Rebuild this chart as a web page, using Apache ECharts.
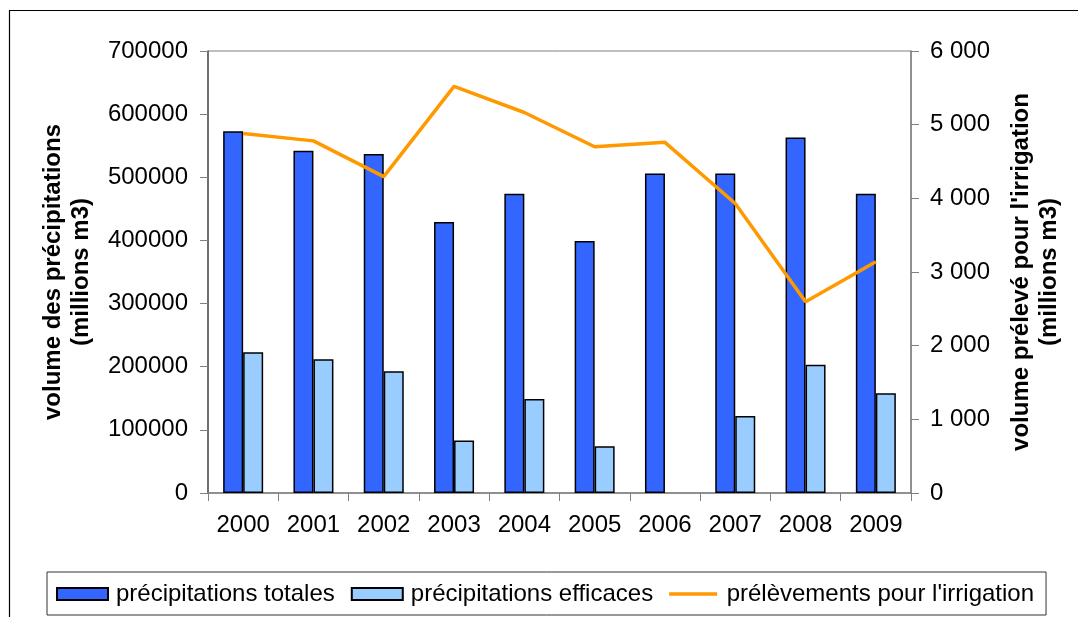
<!DOCTYPE html>
<html>
<head>
<meta charset="utf-8">
<script src="https://cdn.jsdelivr.net/npm/echarts@6/dist/echarts.min.js"></script>
<style>
html,body{margin:0;padding:0;background:#fff;}
#chart{width:1078px;height:617px;}
</style>
</head>
<body>
<div id="chart"></div>
<script>
var years = ['2000','2001','2002','2003','2004','2005','2006','2007','2008','2009'];
var precipTotales = [573000, 542000, 537000, 429000, 474000, 399000, 506000, 506000, 563000, 474000];
var precipEfficaces = [223000, 212000, 193000, 83000, 149000, 74000, null, 122000, 203000, 158000];
var prelevements = [4880, 4780, 4295, 5520, 5165, 4700, 4760, 3930, 2595, 3140];
var seriesNames = ['précipitations totales', 'précipitations efficaces', "prélèvements pour l'irrigation"];
var leftTitle = 'volume des précipitations\n(millions m3)';
var rightTitle = "volume prélevé pour l'irrigation\n(millions m3)";

var FONT = 'Liberation Sans, Arial, sans-serif';
var chart = echarts.init(document.getElementById('chart'), null, {renderer: 'canvas'});
function spaced(v){ return String(v).replace(/\B(?=(\d{3})+(?!\d))/g, ' '); }

chart.setOption({
  animation: false,
  backgroundColor: '#fff',
  textStyle: {fontFamily: FONT},
  grid: {left: 208, right: 167, top: 51, bottom: 124, show: true, borderColor: '#808080', borderWidth: 1},
  graphic: [
    {type: 'line', shape: {x1: 9.5, y1: 10, x2: 9.5, y2: 617}, style: {stroke: '#000', lineWidth: 1.2}, silent: true},
    {type: 'line', shape: {x1: 9, y1: 10.5, x2: 1078, y2: 10.5}, style: {stroke: '#000', lineWidth: 1.2}, silent: true}
  ],
  legend: {
    left: 47, top: 572,
    padding: [10, 12, 9, 9],
    itemGap: 16,
    itemWidth: 51, itemHeight: 12,
    borderColor: '#333', borderWidth: 1,
    textStyle: {fontFamily: FONT, fontSize: 24, color: '#000', padding: [0, 0, 0, 3]},
    data: [
      {name: seriesNames[0], icon: 'rect'},
      {name: seriesNames[1], icon: 'rect'},
      {name: seriesNames[2], icon: 'path://M0,0 L0,0 M0,4.2 L48,4.2 L48,7.8 L0,7.8 Z M48,12 L48,12', itemStyle: {color: '#FF9900', borderWidth: 0}}
    ]
  },
  xAxis: {
    type: 'category',
    data: years,
    axisLine: {lineStyle: {color: '#808080', width: 1.5}},
    axisTick: {show: true, length: 8, lineStyle: {color: '#808080'}, alignWithLabel: false},
    axisLabel: {fontFamily: FONT, fontSize: 24, color: '#000', margin: 20}
  },
  yAxis: [
    {
      type: 'value', min: 0, max: 700000, interval: 100000,
      position: 'left',
      name: leftTitle, nameLocation: 'middle', nameRotate: 90, nameGap: 113,
      nameTextStyle: {fontFamily: FONT, fontSize: 24, fontWeight: 'bold', color: '#000', lineHeight: 28},
      axisLine: {show: true, lineStyle: {color: '#555', width: 1.5}},
      axisTick: {show: true, length: 8, lineStyle: {color: '#808080'}},
      axisLabel: {fontFamily: FONT, fontSize: 24, color: '#000', margin: 20, formatter: function(v){ return String(v); }},
      splitLine: {show: false}
    },
    {
      type: 'value', min: 0, max: 6000, interval: 1000,
      position: 'right',
      name: rightTitle, nameLocation: 'middle', nameRotate: 90, nameGap: 96,
      nameTextStyle: {fontFamily: FONT, fontSize: 24, fontWeight: 'bold', color: '#000', lineHeight: 28},
      axisLine: {show: true, lineStyle: {color: '#808080', width: 1.5}},
      axisTick: {show: true, length: 8, lineStyle: {color: '#808080'}},
      axisLabel: {fontFamily: FONT, fontSize: 24, color: '#000', margin: 19, formatter: spaced},
      splitLine: {show: false}
    }
  ],
  series: [
    {
      name: seriesNames[0], type: 'bar', yAxisIndex: 0, data: precipTotales,
      barWidth: 20, barGap: '0%',
      itemStyle: {color: '#3366FF', borderColor: '#000', borderWidth: 1.5}
    },
    {
      name: seriesNames[1], type: 'bar', yAxisIndex: 0, data: precipEfficaces,
      barWidth: 20, barGap: '0%',
      itemStyle: {color: '#99CCFF', borderColor: '#000', borderWidth: 1.5}
    },
    {
      name: seriesNames[2], type: 'line', yAxisIndex: 1, data: prelevements,
      showSymbol: false, symbol: 'none', z: 5,
      lineStyle: {color: '#FF9900', width: 3.5},
      itemStyle: {color: '#FF9900'}
    }
  ]
});
</script>
</body>
</html>
